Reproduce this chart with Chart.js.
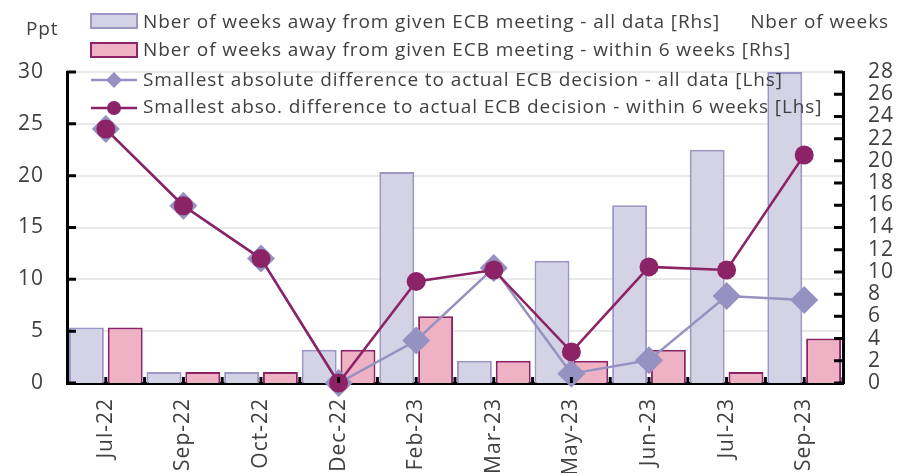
<!DOCTYPE html>
<html>
<head>
<meta charset="utf-8">
<title>ECB meeting expectations</title>
<script src="https://cdn.jsdelivr.net/npm/chart.js@4.4.1/dist/chart.umd.min.js"></script>
<style>
    html, body { margin: 0; padding: 0; background: #fff; }
    #wrap { width: 915px; height: 473px; position: relative; }
</style>
</head>
<body>
<div id="wrap"><canvas id="ecbChart" width="915" height="473"></canvas></div>
<script>
const meetings = ['Jul-22', 'Sep-22', 'Oct-22', 'Dec-22', 'Feb-23', 'Mar-23', 'May-23', 'Jun-23', 'Jul-23', 'Sep-23'];
const weeksAllData = [5, 1, 1, 3, 19, 2, 11, 16, 21, 28];
const weeksWithin6 = [5, 1, 1, 3, 6, 2, 2, 3, 1, 4];
const diffAllData = [24.5, 17.1, 12.0, 0, 4.1, 11.1, 0.9, 2.2, 8.4, 8.0];
const diffWithin6 = [24.5, 17.1, 12.0, 0, 9.8, 10.9, 3.0, 11.2, 10.9, 22.0];
const leftTicks = [0, 5, 10, 15, 20, 25, 30];
const rightTicks = [0, 2, 4, 6, 8, 10, 12, 14, 16, 18, 20, 22, 24, 26, 28];

const seriesNames = [
    'Nber of weeks away from given ECB meeting - all data [Rhs]',
    'Nber of weeks away from given ECB meeting - within 6 weeks [Rhs]',
    'Smallest absolute difference to actual ECB decision - all data [Lhs]',
    'Smallest abso. difference to actual ECB decision - within 6 weeks [Lhs]'
];

const LAV_FILL = '#d4d3e6';
const LAV_LINE = '#9a96c6';
const LAV_MARK = '#9591c1';
const PINK_FILL = '#efb2c5';
const PLUM = '#8b2366';
const TEXT = '#404040';
const FONT = '"Open Sans", "Noto Sans", sans-serif';

// the original font runs wide, so space the letters a little
const spacing = {
    id: 'spacing',
    beforeLayout(chart) { chart.ctx.letterSpacing = '1px'; },
    beforeDraw(chart) { chart.ctx.letterSpacing = '1px'; }
};

// inward tick marks on the three axes, like the spreadsheet original
const innerTicks = {
    id: 'innerTicks',
    afterDatasetsDraw(chart) {
        const { ctx, chartArea, scales } = chart;
        ctx.save();
        ctx.strokeStyle = '#000';
        ctx.lineWidth = 3;
        ctx.beginPath();
        leftTicks.forEach(v => {
            const y = scales.y.getPixelForValue(v);
            ctx.moveTo(chartArea.left, y);
            ctx.lineTo(chartArea.left + 9, y);
        });
        rightTicks.forEach(v => {
            const y = scales.y2.getPixelForValue(v);
            ctx.moveTo(chartArea.right, y);
            ctx.lineTo(chartArea.right - 9, y);
        });
        const half = (scales.x.getPixelForValue(1) - scales.x.getPixelForValue(0)) / 2;
        meetings.forEach((m, i) => {
            const c = scales.x.getPixelForValue(i);
            [c, c + half].forEach(x => {
                ctx.moveTo(x, chartArea.bottom);
                ctx.lineTo(x, chartArea.bottom - 6);
            });
        });
        ctx.stroke();
        ctx.restore();
    }
};

const overlayLegend = {
    id: 'overlayLegend',
    afterDraw(chart) {
        const { ctx } = chart;
        const rows = [28, 56, 86, 113];
        ctx.save();
        ctx.font = '19px ' + FONT;
        ctx.letterSpacing = '0.9px';
        ctx.fillStyle = TEXT;
        ctx.textBaseline = 'alphabetic';

        ctx.fillText('Ppt', 26, 35);
        ctx.textAlign = 'right';
        ctx.fillText('Nber of weeks', 889, 28);
        ctx.textAlign = 'left';

        // swatches
        ctx.lineWidth = 2;
        ctx.fillStyle = LAV_FILL; ctx.strokeStyle = LAV_LINE;
        ctx.fillRect(91, 14, 46, 14); ctx.strokeRect(91, 14, 46, 14);
        ctx.fillStyle = PINK_FILL; ctx.strokeStyle = PLUM;
        ctx.fillRect(91, 43, 46, 14); ctx.strokeRect(91, 43, 46, 14);

        ctx.lineWidth = 2.5;
        ctx.strokeStyle = LAV_MARK;
        ctx.beginPath(); ctx.moveTo(91, 80); ctx.lineTo(137, 80); ctx.stroke();
        ctx.fillStyle = LAV_MARK;
        ctx.beginPath();
        ctx.moveTo(106, 80); ctx.lineTo(114, 72); ctx.lineTo(122, 80); ctx.lineTo(114, 88);
        ctx.closePath(); ctx.fill();

        ctx.strokeStyle = PLUM;
        ctx.beginPath(); ctx.moveTo(91, 108); ctx.lineTo(137, 108); ctx.stroke();
        ctx.fillStyle = PLUM;
        ctx.beginPath(); ctx.arc(114, 108, 7, 0, Math.PI * 2); ctx.fill();

        ctx.fillStyle = TEXT;
        seriesNames.forEach((name, i) => ctx.fillText(name, 143, rows[i]));
        ctx.restore();
    }
};

const tickFont = { family: FONT, size: 21 };

new Chart(document.getElementById('ecbChart'), {
    type: 'bar',
    data: {
        labels: meetings,
        datasets: [
            {
                type: 'line',
                label: seriesNames[3],
                data: diffWithin6,
                yAxisID: 'y',
                borderColor: PLUM,
                borderWidth: 2.5,
                pointStyle: 'circle',
                pointRadius: 9.5,
                pointBackgroundColor: PLUM,
                pointBorderWidth: 0,
                clip: false,
                order: 1
            },
            {
                type: 'line',
                label: seriesNames[2],
                data: diffAllData,
                yAxisID: 'y',
                borderColor: LAV_MARK,
                borderWidth: 2.5,
                pointStyle: 'rectRot',
                pointRadius: 14,
                pointBackgroundColor: LAV_MARK,
                pointBorderWidth: 0,
                clip: false,
                order: 2
            },
            {
                label: seriesNames[0],
                data: weeksAllData,
                yAxisID: 'y2',
                backgroundColor: LAV_FILL,
                borderColor: LAV_LINE,
                borderWidth: 2,
                categoryPercentage: 1,
                barPercentage: 0.9,
                order: 3
            },
            {
                label: seriesNames[1],
                data: weeksWithin6,
                yAxisID: 'y2',
                backgroundColor: PINK_FILL,
                borderColor: PLUM,
                borderWidth: 2,
                categoryPercentage: 1,
                barPercentage: 0.9,
                order: 4
            }
        ]
    },
    options: {
        responsive: false,
        animation: false,
        layout: { padding: { top: 72, left: 0, right: 0, bottom: 0 } },
        plugins: {
            legend: { display: false },
            tooltip: { enabled: false }
        },
        scales: {
            x: {
                offset: true,
                grid: { display: false, drawTicks: false },
                border: { display: true, color: '#000', width: 3 },
                ticks: {
                    color: TEXT,
                    font: tickFont,
                    minRotation: 90,
                    maxRotation: 90,
                    padding: 15,
                    autoSkip: false
                },
                afterFit(scale) { scale.height = 90; }
            },
            y: {
                position: 'left',
                min: 0,
                max: 30,
                afterBuildTicks(scale) { scale.ticks = leftTicks.map(v => ({ value: v })); },
                grid: { color: '#e9e9e9', lineWidth: 2, drawTicks: false },
                border: { display: true, color: '#000', width: 3 },
                ticks: { color: TEXT, font: tickFont, padding: 23, autoSkip: false },
                afterFit(scale) { scale.width = 67; }
            },
            y2: {
                position: 'right',
                min: 0,
                max: 28,
                afterBuildTicks(scale) { scale.ticks = rightTicks.map(v => ({ value: v })); },
                grid: { display: false, drawTicks: false },
                border: { display: true, color: '#000', width: 3 },
                ticks: { color: TEXT, font: tickFont, padding: 25, autoSkip: false },
                afterFit(scale) { scale.width = 72; }
            }
        }
    },
    plugins: [spacing, innerTicks, overlayLegend]
});
</script>
</body>
</html>
